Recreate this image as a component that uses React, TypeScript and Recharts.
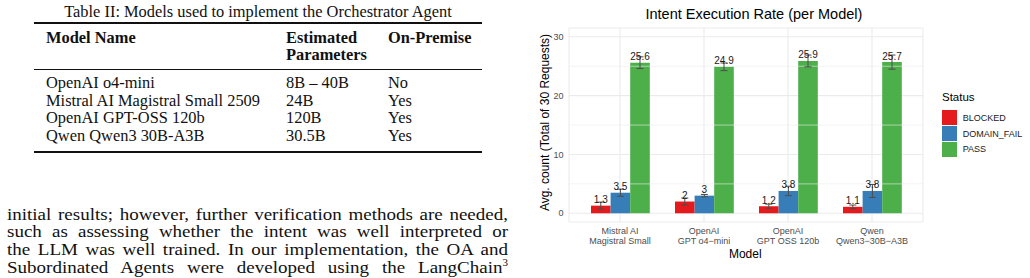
import React from 'react';
import {
  BarChart,
  Bar,
  XAxis,
  YAxis,
  CartesianGrid,
  ReferenceLine,
  ErrorBar,
  LabelList,
} from 'recharts';

const MODELS = [
  ['Mistral AI', 'Magistral Small'],
  ['OpenAI', 'GPT o4\u2212mini'],
  ['OpenAI', 'GPT OSS 120b'],
  ['Qwen', 'Qwen3\u221230B\u2212A3B'],
];
const BLOCKED = [1.3, 2, 1.2, 1.1];
const DOMAIN_FAIL = [3.5, 3, 3.8, 3.8];
const PASS = [25.6, 24.9, 25.9, 25.7];
const BLOCKED_ERR = [0.6, 0.6, 0.35, 0.3];
const DOMAIN_FAIL_ERR = [0.6, 0.2, 0.8, 1.1];
const PASS_ERR = [1.0, 0.65, 1.0, 1.2];
const Y_TICKS = [0, 10, 20, 30];
const Y_MINOR = [5, 15, 25];

const STATUS = [
  { key: 'blocked', name: 'BLOCKED', color: '#E41A1C' },
  { key: 'domainFail', name: 'DOMAIN_FAIL', color: '#377EB8' },
  { key: 'pass', name: 'PASS', color: '#4DAF4A' },
];

const TABLE_HEAD = ['Model Name', 'Estimated\nParameters', 'On-Premise'];
const TABLE_ROWS = [
  ['OpenAI o4-mini', '8B \u2013 40B', 'No'],
  ['Mistral AI Magistral Small 2509', '24B', 'Yes'],
  ['OpenAI GPT-OSS 120b', '120B', 'Yes'],
  ['Qwen Qwen3 30B-A3B', '30.5B', 'Yes'],
];
const BODY_LINES = [
  'initial results; however, further verification methods are needed,',
  'such as assessing whether the intent was well interpreted or',
  'the LLM was well trained. In our implementation, the OA and',
  'Subordinated Agents were developed using the LangChain',
];

const SANS = '"Liberation Sans", Arial, Helvetica, sans-serif';
const SERIF = '"Liberation Serif", "Times New Roman", serif';

const data = MODELS.map((m, i) => ({
  model: m.join('\n'),
  blocked: BLOCKED[i],
  domainFail: DOMAIN_FAIL[i],
  pass: PASS[i],
  blockedErr: BLOCKED_ERR[i],
  domainFailErr: DOMAIN_FAIL_ERR[i],
  passErr: PASS_ERR[i],
}));

function ModelTick(props: any) {
  const { x, y, payload } = props;
  const lines = String(payload.value).split('\n');
  return (
    <text x={x} y={y} textAnchor="middle" fontSize={9} fill="#4d4d4d" fontFamily={SANS}>
      <tspan x={x} dy={11.5}>{lines[0]}</tspan>
      <tspan x={x} dy={10.4}>{lines[1]}</tspan>
    </text>
  );
}

const abs = (s: React.CSSProperties): React.CSSProperties => ({ position: 'absolute', ...s });

function PaperText() {
  const colX = [46, 286, 388];
  const rowTops = [74, 91.7, 109, 126.7];
  return (
    <div style={{ fontFamily: SERIF, fontSize: 16.4, color: '#111', lineHeight: '18px' }}>
      <div style={abs({ left: 0, width: 516, top: 3, textAlign: 'center' })}>
        Table II: Models used to implement the Orchestrator Agent
      </div>
      <div style={abs({ left: 34, width: 448, top: 22.4, height: 1.8, background: '#111' })} />
      {TABLE_HEAD.map((h, i) => (
        <div key={h} style={abs({ left: colX[i], top: 28.5, fontWeight: 'bold', whiteSpace: 'pre', lineHeight: '17.7px' })}>
          {h}
        </div>
      ))}
      <div style={abs({ left: 34, width: 448, top: 69.4, height: 1.1, background: '#111' })} />
      {TABLE_ROWS.map((r, ri) =>
        r.map((c, ci) => (
          <div key={ri + '-' + ci} style={abs({ left: colX[ci], top: rowTops[ri], whiteSpace: 'pre' })}>
            {c}
          </div>
        ))
      )}
      <div style={abs({ left: 34, width: 448, top: 151.4, height: 1.8, background: '#111' })} />
      {BODY_LINES.map((l, i) => (
        <div
          key={i}
          style={abs({
            left: 7,
            width: 501,
            top: 205.5 + i * 17.9,
            fontSize: 19,
            textAlign: 'justify',
            textAlignLast: 'justify',
            whiteSpace: 'nowrap',
            transform: 'scaleY(0.9)',
          })}
        >
          {l}
          {i === BODY_LINES.length - 1 && (
            <span style={{ fontSize: 11, position: 'relative', top: -8, lineHeight: '10px' }}>3</span>
          )}
        </div>
      ))}
    </div>
  );
}

function IntentChart() {
  return (
    <div style={abs({ left: 520, top: 0, width: 510, height: 278 })}>
      <BarChart
        width={510}
        height={278}
        data={data}
        margin={{ top: 28, right: 107, bottom: 0, left: 0 }}
        barGap={0}
        barSize={19.6}
        style={{ fontFamily: SANS }}
      >
        <CartesianGrid stroke="#ebebeb" strokeWidth={1.1} />
        {Y_MINOR.map((v) => (
          <ReferenceLine key={v} y={v} stroke="#ebebeb" strokeWidth={0.6} />
        ))}
        <XAxis
          dataKey="model"
          height={56}
          padding={{ left: 9, right: 9 }}
          tickLine={false}
          axisLine={false}
          tickSize={0}
          tickMargin={0}
          interval={0}
          tick={<ModelTick />}
        />
        <YAxis
          width={49}
          type="number"
          domain={[-1.48, 31.5]}
          ticks={Y_TICKS}
          tickLine={false}
          axisLine={false}
          tickSize={0}
          tickMargin={5.5}
          tick={{ fontSize: 9, fill: '#4d4d4d', fontFamily: SANS }}
        />
        {STATUS.map((s) => (
          <Bar key={s.key} dataKey={s.key} name={s.name} fill={s.color} isAnimationActive={false}>
            <ErrorBar dataKey={s.key + 'Err'} width={3.5} stroke="#4d4d4d" strokeWidth={1} direction="y" />
            <LabelList
              dataKey={s.key}
              position="top"
              offset={2.6}
              fontSize={10}
              fill="#1a1a1a"
              fontFamily={SANS}
            />
          </Bar>
        ))}
      </BarChart>
    </div>
  );
}

function ChartText() {
  return (
    <div style={{ fontFamily: SANS, color: '#000' }}>
      <div style={abs({ left: 645.5, width: 200, top: 5, textAlign: 'center', fontSize: 14.5, lineHeight: '18px', whiteSpace: 'nowrap' })}>
        Intent Execution Rate (per Model)
      </div>
      <div
        style={abs({
          left: 445,
          width: 200,
          top: 115,
          textAlign: 'center',
          fontSize: 12,
          lineHeight: '15px',
          whiteSpace: 'nowrap',
          transform: 'rotate(-90deg)',
          transformOrigin: '100px 7.5px',
        })}
      >
        Avg. count (Total of 30 Requests)
      </div>
      <div style={abs({ left: 695.3, width: 100, top: 246.5, textAlign: 'center', fontSize: 12, lineHeight: '15px' })}>
        Model
      </div>
      <div style={abs({ left: 942, top: 90, fontSize: 11.5, lineHeight: '15px' })}>Status</div>
      {STATUS.map((s, i) => (
        <React.Fragment key={s.key}>
          <div style={abs({ left: 942.3, top: 110.3 + i * 15.7, width: 14.4, height: 15, background: s.color })} />
          <div style={abs({ left: 962.7, top: 112 + i * 15.7, fontSize: 9, lineHeight: '12px', color: '#1a1a1a' })}>
            {s.name}
          </div>
        </React.Fragment>
      ))}
    </div>
  );
}

export default function App() {
  return (
    <div style={abs({ left: 0, top: 0, width: 1030, height: 278, background: '#fff', overflow: 'hidden' })}>
      <PaperText />
      <IntentChart />
      <ChartText />
    </div>
  );
}
